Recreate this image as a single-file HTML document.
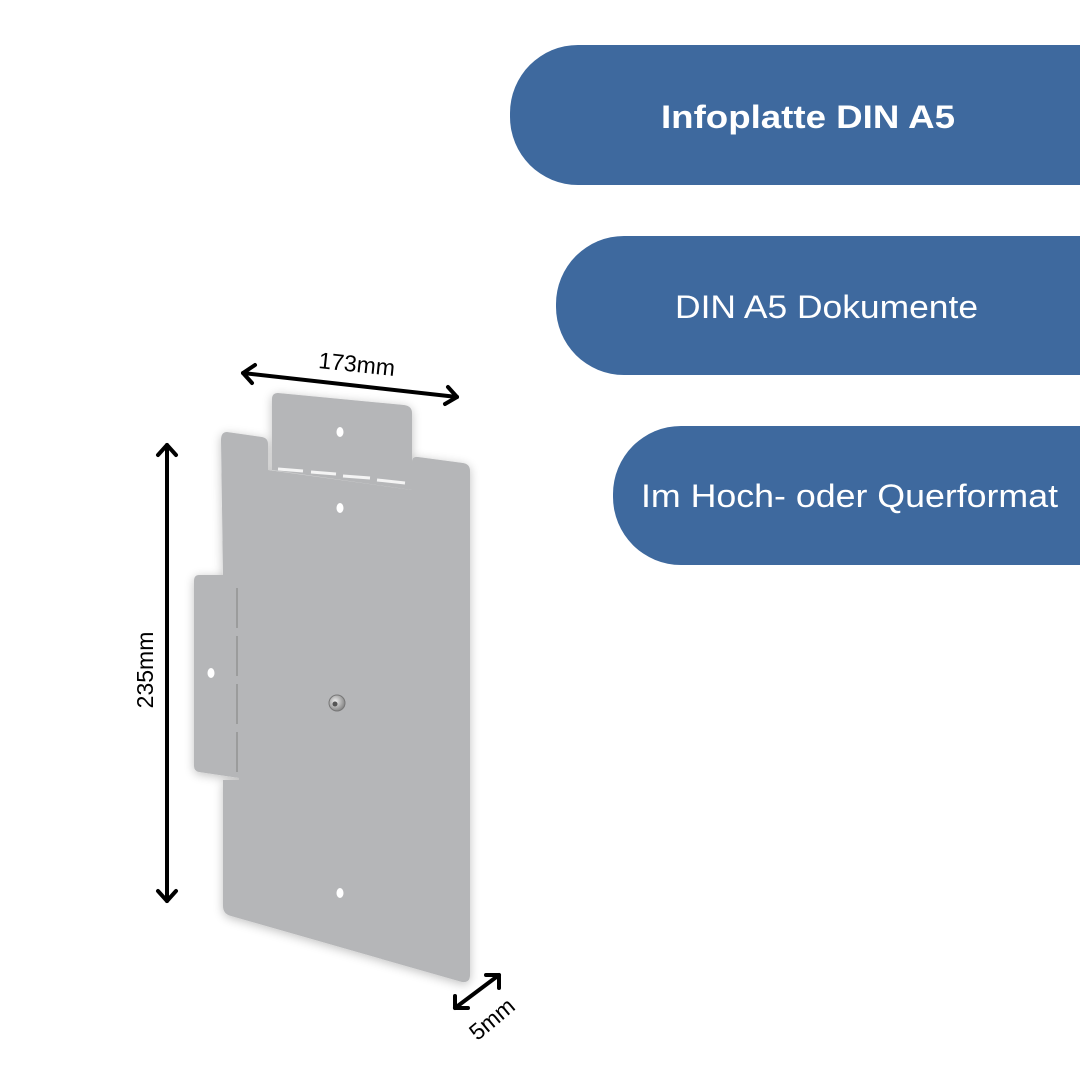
<!DOCTYPE html>
<html><head><meta charset="utf-8"><style>
html,body{margin:0;padding:0;background:#fff;}
svg{display:block;}
</style></head><body>
<svg width="1080" height="1080" viewBox="0 0 1080 1080" xmlns="http://www.w3.org/2000/svg">
<defs>
<filter id="sh" x="-20%" y="-20%" width="140%" height="140%"><feGaussianBlur in="SourceAlpha" stdDeviation="5"/><feOffset dx="0" dy="2"/><feComponentTransfer><feFuncA type="linear" slope="0.25"/></feComponentTransfer><feMerge><feMergeNode/><feMergeNode in="SourceGraphic"/></feMerge></filter>
<radialGradient id="sc" cx="0.4" cy="0.4" r="0.6"><stop offset="0" stop-color="#eee"/><stop offset="1" stop-color="#888"/></radialGradient>
</defs>
<rect width="1080" height="1080" fill="#fff"/>
<path d="M578,45 H1080 V185 H578 A68,68 0 0 1 510,117 V113 A68,68 0 0 1 578,45 Z" fill="#3e699e"/>
<path d="M624,236 H1080 V375 H624 A68,68 0 0 1 556,307 V304 A68,68 0 0 1 624,236 Z" fill="#3e699e"/>
<path d="M681,426 H1080 V565 H681 A68,68 0 0 1 613,497 V494 A68,68 0 0 1 681,426 Z" fill="#3e699e"/>
<g font-family="Liberation Sans, sans-serif" fill="#fff" font-size="32">
<text x="661" y="128" font-weight="bold" textLength="294" lengthAdjust="spacingAndGlyphs">Infoplatte DIN A5</text>
<text x="675" y="318" textLength="303" lengthAdjust="spacingAndGlyphs">DIN A5 Dokumente</text>
<text x="641" y="507" textLength="417" lengthAdjust="spacingAndGlyphs">Im Hoch- oder Querformat</text>
</g>
<g filter="url(#sh)" fill="#b5b6b8">
<path d="M227,432 L262,437 Q268,438 268,444 L268,470 L412,490 L412,462 Q412,456 418,457 L463,463 Q470,464 470,471 L470,975 Q470,983 462,982 L231,916 Q223,914 223,906 L223,780 L239,780 L239,575 L223,575 L221,440 Q221,432 227,432 Z"/>
<path d="M278,393 L404,405 Q412,406 412,413 L412,490 L272,470 L272,399 Q272,393 278,393 Z"/>
<path d="M199,575 L239,575 L239,778 L199,772 Q194,771 194,766 L194,581 Q194,575 199,575 Z"/>
</g>
<g stroke="#f4f4f4" stroke-width="3">
<line x1="278" y1="469" x2="303" y2="471"/><line x1="311" y1="472" x2="336" y2="474"/><line x1="343" y1="476" x2="370" y2="478"/><line x1="377" y1="480" x2="405" y2="483"/>
</g>
<g stroke="#8a8a8a" stroke-width="1.2">
<line x1="237" y1="588" x2="237" y2="628"/><line x1="237" y1="636" x2="237" y2="676"/><line x1="237" y1="684" x2="237" y2="724"/><line x1="237" y1="732" x2="237" y2="772"/>
</g>
<g fill="#fff">
<ellipse cx="340" cy="432" rx="3.5" ry="5"/><ellipse cx="340" cy="508" rx="3.5" ry="5"/><ellipse cx="211" cy="673" rx="3.5" ry="5"/><ellipse cx="340" cy="893" rx="3.5" ry="5"/>
</g>
<circle cx="337" cy="703" r="8" fill="url(#sc)" stroke="#777" stroke-width="1"/>
<circle cx="335" cy="704" r="2.5" fill="#555"/>
<g stroke="#000" stroke-width="4" fill="none" stroke-linecap="round" stroke-linejoin="round">
<line x1="243" y1="373" x2="457" y2="397"/>
<polyline points="255,365 243,373 252,383"/>
<polyline points="448,387 457,397 445,404"/>
<line x1="167" y1="445" x2="167" y2="901"/>
<polyline points="158,455 167,445 176,455"/>
<polyline points="158,891 167,901 176,891"/>
<line x1="455" y1="1008" x2="499" y2="975"/>
<polyline points="455,996 455,1008 468,1008"/>
<polyline points="486,975 499,975 499,988"/>
</g>
<g font-family="Liberation Sans, sans-serif" fill="#000" font-size="23">
<text transform="translate(356,372) rotate(6)" text-anchor="middle">173mm</text>
<text transform="translate(153,670) rotate(-90)" text-anchor="middle">235mm</text>
<text transform="translate(497,1025) rotate(-40)" text-anchor="middle">5mm</text>
</g>
</svg>
</body></html>
